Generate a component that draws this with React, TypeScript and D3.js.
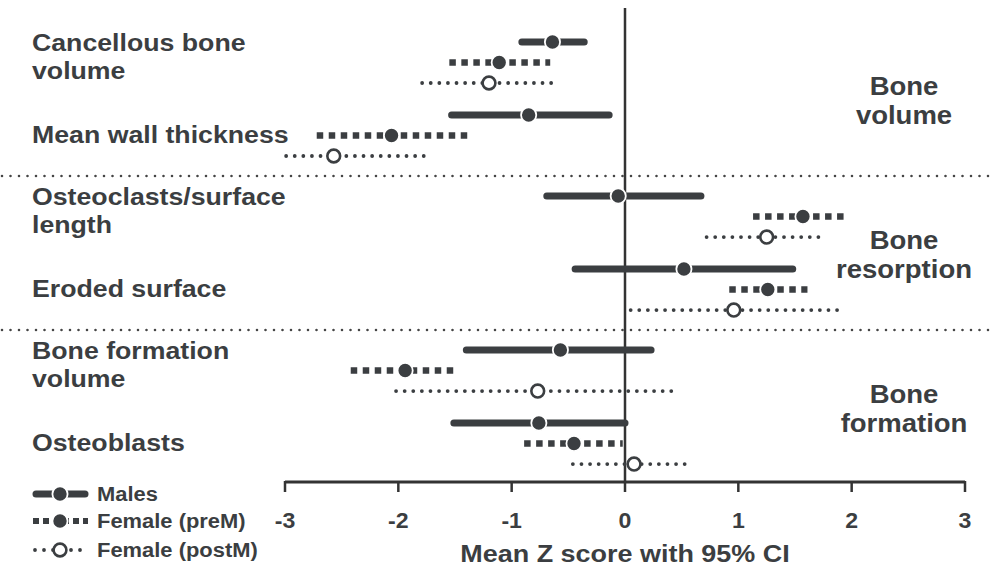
import React from 'react';
import * as d3 from 'd3';

const categories = [
  'Cancellous bone volume',
  'Mean wall thickness',
  'Osteoclasts/surface length',
  'Eroded surface',
  'Bone formation volume',
  'Osteoblasts',
];
const labelLines = [
  ['Cancellous bone', 'volume'],
  ['Mean wall thickness'],
  ['Osteoclasts/surface', 'length'],
  ['Eroded surface'],
  ['Bone formation', 'volume'],
  ['Osteoblasts'],
];
const groupOf = [0, 0, 1, 1, 2, 2];
const groupLabels = [
  ['Bone', 'volume'],
  ['Bone', 'resorption'],
  ['Bone', 'formation'],
];
const seriesNames = ['Males', 'Female (preM)', 'Female (postM)'];

const malesMean = [-0.64, -0.85, -0.06, 0.52, -0.57, -0.76];
const malesLow = [-0.91, -1.53, -0.69, -0.44, -1.4, -1.51];
const malesHigh = [-0.36, -0.14, 0.67, 1.48, 0.23, 0.0];

const preMMean = [-1.11, -2.06, 1.57, 1.26, -1.94, -0.45];
const preMLow = [-1.55, -2.72, 1.13, 0.92, -2.42, -0.89];
const preMHigh = [-0.66, -1.39, 1.93, 1.61, -1.51, -0.02];

const postMMean = [-1.2, -2.57, 1.25, 0.96, -0.77, 0.08];
const postMLow = [-1.79, -2.99, 0.72, 0.05, -2.02, -0.46];
const postMHigh = [-0.62, -1.75, 1.76, 1.89, 0.47, 0.58];

const xTicks = [-3, -2, -1, 0, 1, 2, 3];

const COLOR = '#3b3e41';
const FONT = '"Liberation Sans", Arial, Helvetica, sans-serif';

const seriesData = [
  { mean: malesMean, low: malesLow, high: malesHigh },
  { mean: preMMean, low: preMLow, high: preMHigh },
  { mean: postMMean, low: postMLow, high: postMHigh },
];

function lineStyle(s: number) {
  if (s === 0) return { strokeWidth: 7, strokeLinecap: 'round' as const, strokeDasharray: undefined };
  if (s === 1) return { strokeWidth: 6.5, strokeLinecap: 'butt' as const, strokeDasharray: '6.5 5.5' };
  return { strokeWidth: 3.8, strokeLinecap: 'round' as const, strokeDasharray: '0 8.6' };
}

function Marker({ cx, cy, s }: { cx: number; cy: number; s: number }) {
  if (s === 2) {
    return <circle cx={cx} cy={cy} r={6.4} fill="#fff" stroke={COLOR} strokeWidth={2.6} />;
  }
  return <circle cx={cx} cy={cy} r={7.6} fill={COLOR} stroke="#fff" strokeWidth={1.8} />;
}

function SText({
  x,
  y,
  size,
  sx,
  anchor,
  children,
}: {
  x: number;
  y: number;
  size: number;
  sx: number;
  anchor?: 'start' | 'middle' | 'end';
  children: React.ReactNode;
}) {
  return (
    <text
      transform={`translate(${x},${y}) scale(${sx},1)`}
      fontSize={size}
      fill={COLOR}
      textAnchor={anchor || 'start'}
    >
      {children}
    </text>
  );
}

export default function App() {
  const W = 990;
  const H = 568;
  const x = d3.scaleLinear().domain([-3, 3]).range([285, 965]);
  const slot = d3.scaleLinear().domain([0, 1]).range([42, 115]);
  const rowY = (i: number) => slot(i + 0.11 * groupOf[i]);
  const serY = (i: number, s: number) => rowY(i) + 20.5 * s;
  const axisY = 482;
  const zeroX = x(0);

  const separators: number[] = [];
  for (let i = 1; i < categories.length; i++) {
    if (groupOf[i] !== groupOf[i - 1]) {
      separators.push((serY(i - 1, 2) + serY(i, 0)) / 2);
    }
  }

  const groupCenters = groupLabels.map((_, g) => {
    const idx = categories.map((_, i) => i).filter((i) => groupOf[i] === g);
    return (serY(idx[0], 0) + serY(idx[idx.length - 1], 2)) / 2;
  });

  return (
    <svg
      width={W}
      height={H}
      style={{ position: 'absolute', left: 0, top: 0, background: '#fff' }}
      fontFamily={FONT}
      fontWeight="bold"
    >
      <rect x={0} y={0} width={W} height={H} fill="#fff" />

      {separators.map((y, k) => (
        <line
          key={'sep' + k}
          x1={2}
          x2={W}
          y1={y}
          y2={y}
          stroke="#454545"
          strokeWidth={2.6}
          strokeDasharray="0 8.5"
          strokeLinecap="round"
        />
      ))}

      <line x1={zeroX} x2={zeroX} y1={8} y2={axisY} stroke="#333" strokeWidth={2.5} />

      <line x1={x(-3)} x2={x(3)} y1={axisY} y2={axisY} stroke="#333" strokeWidth={2.8} />
      {xTicks.map((t) => (
        <g key={'t' + t}>
          <line x1={x(t)} x2={x(t)} y1={axisY - 1} y2={axisY + 10} stroke="#333" strokeWidth={2.5} />
          <SText x={x(t)} y={528} size={22} sx={1.05} anchor="middle">
            {t < 0 ? '-' + Math.abs(t) : String(t)}
          </SText>
        </g>
      ))}
      <SText x={zeroX} y={562} size={24.5} sx={1.1} anchor="middle">
        Mean Z score with 95% CI
      </SText>

      {categories.map((c, i) =>
        seriesData.map((sd, s) => {
          const y = serY(i, s);
          const st = lineStyle(s);
          return (
            <g key={c + s}>
              <line
                x1={x(sd.low[i])}
                x2={x(sd.high[i])}
                y1={y}
                y2={y}
                stroke={COLOR}
                strokeWidth={st.strokeWidth}
                strokeLinecap={st.strokeLinecap}
                strokeDasharray={st.strokeDasharray}
              />
              <Marker cx={x(sd.mean[i])} cy={y} s={s} />
            </g>
          );
        })
      )}

      {labelLines.map((lines, i) => {
        const c = serY(i, 1);
        const ys = lines.length === 2 ? [c - 12, c + 16.5] : [c + 7];
        return lines.map((ln, k) => (
          <SText key={'l' + i + k} x={32} y={ys[k]} size={24.5} sx={1.09}>
            {ln}
          </SText>
        ));
      })}

      {groupLabels.map((lines, g) =>
        lines.map((ln, k) => (
          <SText key={'g' + g + k} x={904} y={groupCenters[g] - 4 + 29 * k} size={25} sx={1.1} anchor="middle">
            {ln}
          </SText>
        ))
      )}

      {seriesNames.map((name, s) => {
        const y = [494, 521, 550][s];
        const st = lineStyle(s);
        const dash = s === 1 ? '6 4' : s === 2 ? '0 9' : undefined;
        return (
          <g key={'leg' + s}>
            <line
              x1={s === 2 ? 35 : s === 0 ? 36 : 33}
              x2={s === 2 ? 82 : s === 0 ? 85 : 88}
              y1={y}
              y2={y}
              stroke={COLOR}
              strokeWidth={s === 1 ? 6 : st.strokeWidth}
              strokeLinecap={st.strokeLinecap}
              strokeDasharray={dash}
            />
            <Marker cx={60} cy={y} s={s} />
            <SText x={97} y={y + 7} size={20.5} sx={1.07}>
              {name}
            </SText>
          </g>
        );
      })}
    </svg>
  );
}
